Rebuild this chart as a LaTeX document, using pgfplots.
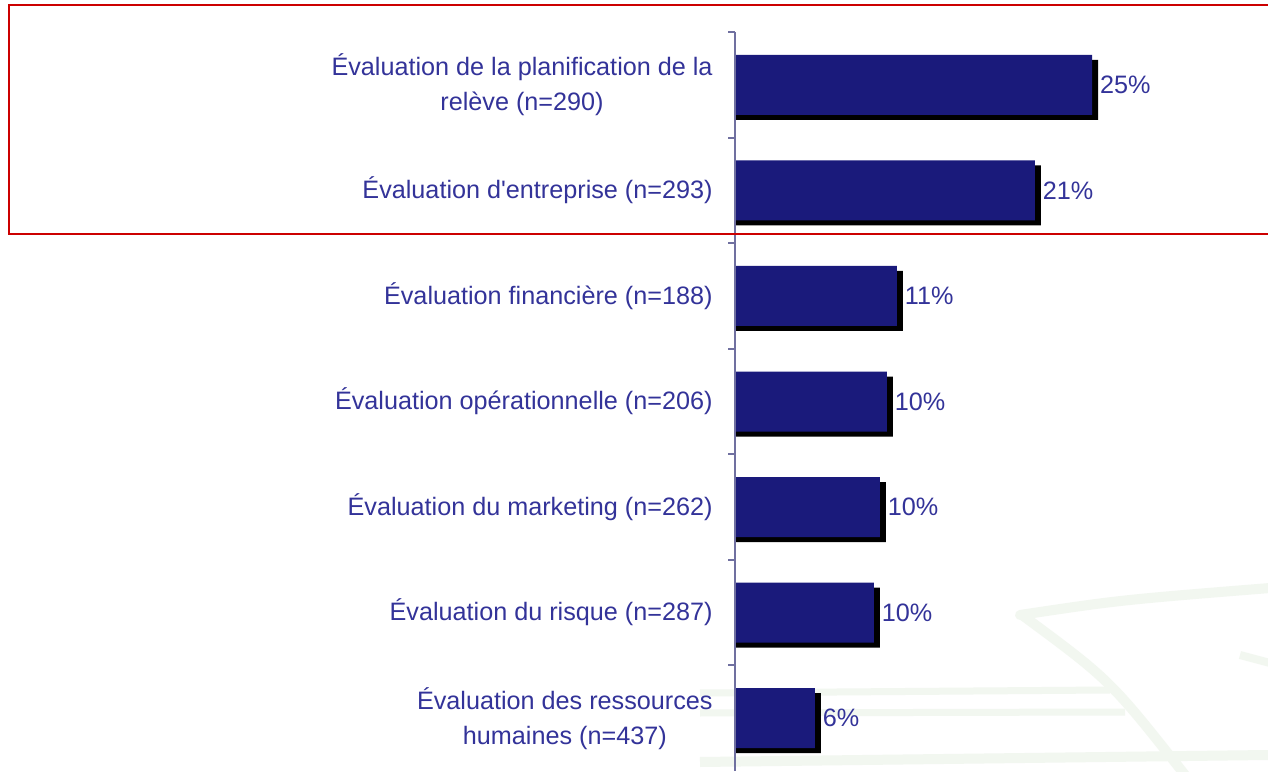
\documentclass[border=0pt]{standalone}
\usepackage{pgfplots}
\pgfplotsset{compat=1.18}
\usepackage{pgfplotstable}
\usepackage{fontspec}
\setmainfont{Liberation Sans}
\definecolor{barblue}{RGB}{26,26,123}
\definecolor{txtblue}{RGB}{51,51,153}
\definecolor{axblue}{RGB}{112,112,160}
\definecolor{redbox}{RGB}{204,0,0}
\definecolor{wm}{RGB}{242,247,240}
\pgfplotstableread{
y x lab
6 25.0 25
5 21.0 21
4 11.34 11
3 10.64 10
2 10.15 10
1 9.73 10
0 5.6 6
}\data
\begin{document}
\begin{tikzpicture}
\useasboundingbox (0,0) rectangle (634pt,385.5pt);
\fill[white] (0,0) rectangle (634pt,385.5pt);
% faint watermark
\begin{scope}[x=0.5pt,y=-0.5pt,yshift=385.5pt]
\draw[wm,line width=5pt,line cap=round] (1020,615) .. controls (1120,600) .. (1270,588);
\draw[wm,line width=5pt,line cap=round] (1022,615) .. controls (1110,680) .. (1185,775);
\draw[wm,line width=3.5pt] (700,693) -- (1110,690);
\draw[wm,line width=3.5pt] (700,713) -- (1125,712);
\draw[wm,line width=5pt] (700,762) -- (1268,755);
\draw[wm,line width=4pt] (1240,655) -- (1270,663);
\end{scope}
\begin{axis}[
  at={(367.5pt,0pt)}, anchor=south west,
  scale only axis, width=266.5pt, height=369.5pt,
  xbar, bar width=30pt,
  xmin=0, xmax=37.32, ymin=-0.5, ymax=6.5,
  axis x line=none, axis y line*=left,
  y axis line style={draw=axblue, line width=1pt},
  ytick={0,...,6},
  yticklabels={{Évaluation des ressources\\humaines (n=437)},
    {Évaluation du risque (n=287)},
    {Évaluation du marketing (n=262)},
    {Évaluation opérationnelle (n=206)},
    {Évaluation financière (n=188)},
    {Évaluation d\textquotesingle entreprise (n=293)},
    {Évaluation de la planification de la\\relève (n=290)}},
  major tick length=0pt,
  yticklabel style={align=center, text=txtblue, inner sep=0pt, xshift=-11pt,
    font=\fontsize{12.6}{17.5}\selectfont},
  extra y ticks={0.5,1.5,...,6.5},
  extra y tick labels={},
  extra y tick style={tick align=outside, major tick length=3.5pt,
    tick style={draw=axblue, line width=1pt}},
  axis on top=true,
  clip=false,
]
\addplot[fill=black, draw=none, bar shift=-2.5pt, forget plot]
  table[x expr=\thisrow{x}+0.42, y=y] {\data};
\addplot[fill=barblue, draw=none, bar shift=0pt,
  point meta=explicit symbolic,
  nodes near coords={\pgfplotspointmeta\%},
  nodes near coords style={anchor=west, inner sep=0pt, xshift=3.8pt,
    text=txtblue, font=\fontsize{12.6}{15}\selectfont}]
  table[x=x, y=y, meta=lab] {\data};
\end{axis}
\begin{scope}[x=0.5pt,y=-0.5pt,yshift=385.5pt]
\draw[redbox, line width=1.3pt] (1290,5) -- (9,5) -- (9,234) -- (1290,234);
\end{scope}
\end{tikzpicture}
\end{document}
